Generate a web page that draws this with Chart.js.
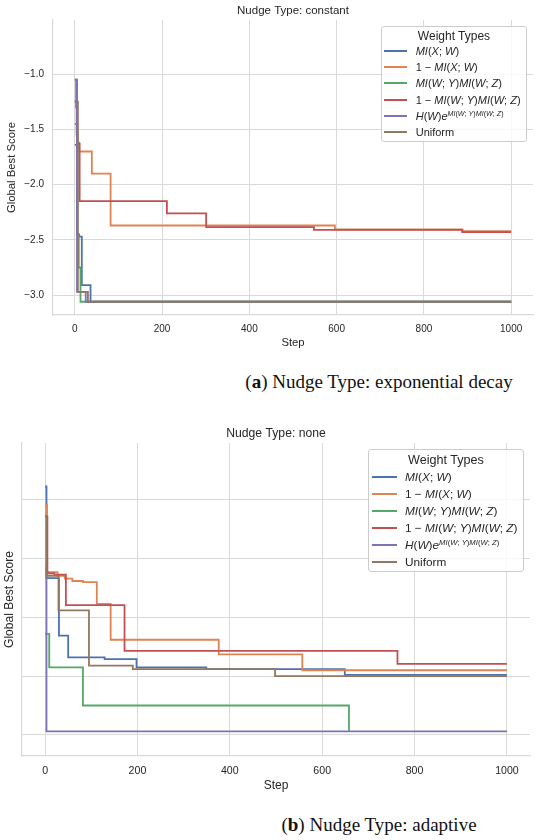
<!DOCTYPE html>
<html>
<head>
<meta charset="utf-8">
<script src="https://cdn.jsdelivr.net/npm/chart.js@4.4.0/dist/chart.umd.min.js"></script>
<style>
  body { margin: 0; background: #fff; width: 550px; height: 840px; position: relative; overflow: hidden;
         font-family: "Liberation Sans", Arial, sans-serif; color: #262626; }
  .wrap { position: absolute; left: 0; width: 550px; }
  .legend { position: absolute; background: rgba(255,255,255,0.8); border: 1px solid #cccccc;
            border-radius: 3px; box-sizing: border-box; }
  .legend .ttl { text-align: center; }
  .legend .row { display: flex; align-items: center; white-space: nowrap; }
  .legend .swatch { display: inline-block; height: 2px; flex: none; }
  .legend sup { font-size: 65%; vertical-align: 0.55em; line-height: 0; }
  .caption { position: absolute; font-family: "Liberation Serif", "DejaVu Serif", serif; font-size: 19px;
             line-height: 20px; white-space: nowrap; transform: translateX(-50%); color: #111; }
</style>
</head>
<body>

<div class="wrap" style="top:0px;"><canvas id="chartA" width="550" height="352"></canvas></div>
<div class="legend" id="legendA" style="left:381px; top:26px; width:146px; height:116px;"></div>
<div class="caption" style="left:379px; top:372px;">(<b>a</b>) Nudge Type: exponential decay</div>

<div class="wrap" style="top:420px;"><canvas id="chartB" width="550" height="376"></canvas></div>
<div class="legend" id="legendB" style="left:368px; top:449px; width:156px; height:123px;"></div>
<div class="caption" style="left:379px; top:815px;">(<b>b</b>) Nudge Type: adaptive</div>

<script>
// Tick values
const xTicks = [0, 200, 400, 600, 800, 1000];
const yTicksA = [-3.0, -2.5, -2.0, -1.5, -1.0];
const yTicksB = [0, 1, 2, 3, 4];   // gridlines only, labels are not shown in the original

// Legend entries and colours (seaborn "deep")
const weightLabels = [
  '<i>MI</i>(<i>X</i>; <i>W</i>)',
  '1 \u2212 <i>MI</i>(<i>X</i>; <i>W</i>)',
  '<i>MI</i>(<i>W</i>; <i>Y</i>)<i>MI</i>(<i>W</i>; <i>Z</i>)',
  '1 \u2212 <i>MI</i>(<i>W</i>; <i>Y</i>)<i>MI</i>(<i>W</i>; <i>Z</i>)',
  '<i>H</i>(<i>W</i>)<i>e</i><sup><i>MI</i>(<i>W</i>; <i>Y</i>)<i>MI</i>(<i>W</i>; <i>Z</i>)</sup>',
  'Uniform'
];
const weightColors = ['#4c72b0', '#dd8452', '#55a868', '#c44e52', '#8172b3', '#937860'];

// (a) Nudge Type: constant  -- steps and global best scores
const stepsA_mi      = [0, 5, 10, 16, 36, 1000];
const scoreA_mi      = [-1.64, -2.45, -2.47, -2.91, -3.06, -3.06];
const stepsA_oneMi   = [0, 4, 7, 10, 39, 82, 596, 888, 1000];
const scoreA_oneMi   = [-1.25, -1.55, -1.62, -1.70, -1.90, -2.37, -2.405, -2.42, -2.42];
const stepsA_prod    = [0, 6, 9, 13, 1000];
const scoreA_prod    = [-1.45, -2.45, -2.75, -3.06, -3.06];
const stepsA_oneProd = [0, 5, 11, 211, 301, 548, 888, 1000];
const scoreA_oneProd = [-1.05, -1.63, -2.15, -2.26, -2.385, -2.41, -2.43, -2.43];
const stepsA_entropy = [0, 3, 5, 25, 1000];
const scoreA_entropy = [-1.05, -1.30, -2.97, -3.06, -3.06];
const stepsA_uniform = [0, 7, 30, 1000];
const scoreA_uniform = [-1.25, -2.97, -3.06, -3.06];

// (b) Nudge Type: none
const stepsB_mi      = [0, 3, 30, 50, 129, 198, 349, 649, 1000];
const scoreB_mi      = [4.23, 2.67, 1.69, 1.32, 1.29, 1.15, 1.12, 1.02, 1.02];
const stepsB_oneMi   = [0, 4, 27, 43, 59, 82, 112, 142, 376, 557, 1000];
const scoreB_oneMi   = [3.92, 2.77, 2.71, 2.66, 2.62, 2.60, 2.23, 1.62, 1.37, 1.10, 1.10];
const stepsB_prod    = [0, 9, 82, 658];
const scoreB_prod    = [1.72, 1.15, 0.50, 0.06];
const stepsB_oneProd = [0, 5, 20, 45, 172, 763, 1000];
const scoreB_oneProd = [3.72, 2.75, 2.73, 2.21, 1.43, 1.21, 1.21];
const stepsB_entropy = [0, 3, 1000];
const scoreB_entropy = [2.84, 0.06, 0.06];
const stepsB_uniform = [0, 3, 29, 95, 190, 498, 1000];
const scoreB_uniform = [3.72, 2.71, 2.12, 1.18, 1.12, 1.00, 1.00];

const FONT = '"Liberation Sans", Arial, sans-serif';
const TEXT = '#262626';
const GRID = '#d9d9d9';

// Zip steps and scores into {x, y} points, one dataset per weight type
function makeDatasets(stepsList, scoreList) {
  return stepsList.map((steps, i) => ({
    label: weightLabels[i].replace(/<[^>]+>/g, ''),
    data: steps.map((s, j) => ({ x: s, y: scoreList[i][j] })),
    borderColor: weightColors[i],
    backgroundColor: weightColors[i],
    borderWidth: 1.8,
    pointRadius: 0,
    stepped: true,
    fill: false,
    order: stepsList.length - i   // later series drawn on top, like matplotlib
  }));
}

function makeChart(id, datasets, cfg) {
  const ctx = document.getElementById(id).getContext('2d');
  return new Chart(ctx, {
    type: 'line',
    data: { datasets: datasets },
    options: {
      responsive: false,
      animation: false,
      layout: { padding: { top: 0, right: cfg.padRight, bottom: 0, left: 0 } },
      plugins: {
        legend: { display: false },
        tooltip: { enabled: false },
        title: {
          display: true,
          text: cfg.title,
          fullSize: false,
          color: TEXT,
          font: { family: FONT, size: cfg.titleSize, weight: 'normal' },
          padding: { top: cfg.titleTop, bottom: cfg.titleBottom }
        }
      },
      scales: {
        x: {
          type: 'linear',
          min: -50,
          max: 1050,
          afterBuildTicks: s => { s.ticks = xTicks.map(v => ({ value: v })); },
          afterFit: s => { s.height = cfg.xHeight; },
          grid: { color: GRID, lineWidth: 1, drawTicks: false },
          border: { color: GRID, width: 1.2 },
          ticks: { color: TEXT, padding: cfg.xTickPad, font: { family: FONT, size: cfg.tickSize },
                   callback: v => String(v) },
          title: { display: true, text: 'Step', color: TEXT, font: { family: FONT, size: cfg.labelSize },
                   padding: { top: 0, bottom: cfg.xTitlePad } }
        },
        y: {
          type: 'linear',
          min: cfg.yMin,
          max: cfg.yMax,
          afterBuildTicks: s => { s.ticks = cfg.yTicks.map(v => ({ value: v })); },
          afterFit: s => { s.width = cfg.yWidth; },
          grid: { color: GRID, lineWidth: 1, drawTicks: false },
          border: { color: GRID, width: 1.2 },
          ticks: {
            display: cfg.showYLabels,
            color: TEXT,
            padding: 9,
            font: { family: FONT, size: cfg.tickSize },
            callback: v => v.toFixed(1).replace('-', '\u2212')
          },
          title: { display: true, text: 'Global Best Score', color: TEXT,
                   font: { family: FONT, size: cfg.labelSize }, padding: { top: cfg.yTitlePad, bottom: 0 } }
        }
      }
    }
  });
}

// HTML legend so the math labels keep italics and superscripts
function makeLegend(id, titleSize, entrySize, rowHeight, swatchLeft, swatchWidth, gap, titleHeight) {
  const box = document.getElementById(id);
  let html = '<div class="ttl" style="font-size:' + titleSize + 'px; line-height:' + titleHeight +
             'px; padding-top:2px;">Weight Types</div>';
  weightLabels.forEach((lab, i) => {
    html += '<div class="row" style="height:' + rowHeight + 'px; font-size:' + entrySize + 'px; padding-left:' +
            swatchLeft + 'px;"><span class="swatch" style="width:' + swatchWidth + 'px; background:' +
            weightColors[i] + '; margin-right:' + gap + 'px;"></span><span>' + lab + '</span></div>';
  });
  box.innerHTML = html;
}

makeChart('chartA', makeDatasets(
  [stepsA_mi, stepsA_oneMi, stepsA_prod, stepsA_oneProd, stepsA_entropy, stepsA_uniform],
  [scoreA_mi, scoreA_oneMi, scoreA_prod, scoreA_oneProd, scoreA_entropy, scoreA_uniform]), {
  title: 'Nudge Type: constant', titleSize: 11.5, tickSize: 10, labelSize: 11.3,
  titleTop: 4.1, titleBottom: 2.1, padRight: 17,
  xHeight: 37, xTickPad: 8, xTitlePad: 2, yWidth: 53, yTitlePad: 5.2, yMin: -3.18, yMax: -0.51,
  yTicks: yTicksA, showYLabels: true
});

makeChart('chartB', makeDatasets(
  [stepsB_mi, stepsB_oneMi, stepsB_prod, stepsB_oneProd, stepsB_entropy, stepsB_uniform],
  [scoreB_mi, scoreB_oneMi, scoreB_prod, scoreB_oneProd, scoreB_entropy, scoreB_uniform]), {
  title: 'Nudge Type: none', titleSize: 12.2, tickSize: 10.6, labelSize: 12,
  titleTop: 6.7, titleBottom: 1.7, padRight: 20,
  xHeight: 40, xTickPad: 8.7, xTitlePad: 2.8, yWidth: 22, yTitlePad: 2.8, yMin: -0.36, yMax: 4.97,
  yTicks: yTicksB, showYLabels: false
});

makeLegend('legendA', 12, 11, 16.2, 2, 23, 8.7, 14);
makeLegend('legendB', 12.6, 11.8, 17, 3, 25, 8, 16);
</script>
</body>
</html>
